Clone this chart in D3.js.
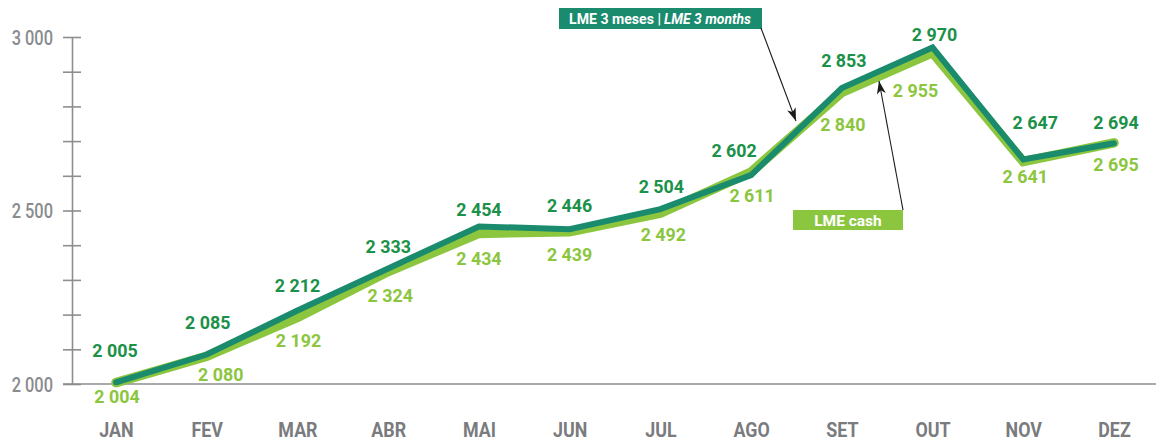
<!DOCTYPE html>
<html>
<head>
<meta charset="utf-8">
<script src="https://cdn.jsdelivr.net/npm/d3@7"></script>
<style>
  html, body { margin: 0; padding: 0; background: #fff; }
  svg { display: block; font-family: Roboto, "Noto Sans", sans-serif; }
</style>
</head>
<body>
<svg id="chart" width="1156" height="442"></svg>
<script>
// Monthly averages, USD/t
const months = ["JAN", "FEV", "MAR", "ABR", "MAI", "JUN", "JUL", "AGO", "SET", "OUT", "NOV", "DEZ"];
const lme3Months = [2005, 2085, 2212, 2333, 2454, 2446, 2504, 2602, 2853, 2970, 2647, 2694];
const lmeCash = [2004, 2080, 2192, 2324, 2434, 2439, 2492, 2611, 2840, 2955, 2641, 2695];
const yTickValues = [2000, 2100, 2200, 2300, 2400, 2500, 2600, 2700, 2800, 2900, 3000];
const yLabelValues = [2000, 2500, 3000];

// Value label placement relative to each point [dx, dy]
const lme3LabelOffsets = [[-1,-25],[1,-26],[0,-18],[0,-15],[0,-10],[0,-17],[1,-16],[-17,-18],[2,-21],[2,-6],[12,-30],[2,-14]];
const cashLabelOffsets = [[1,20],[14,25],[1,30],[2,30],[0,32],[0,29],[3,28],[1,30],[1,38],[-17,44],[2,21],[2,28]];

const C = {
  teal: "#1a8b6d",
  darkLabel: "#1b9149",
  light: "#8cc63f",
  axis: "#8d8e90",
  month: "#7a7b7e",
  yLabel: "#8a8b8e"
};

const svg = d3.select("#chart");
const x = d3.scalePoint().domain(months).range([116, 1114]);
const y = d3.scaleLinear().domain([2000, 3000]).range([384, 37]);
const fmt = v => d3.format(",")(v).replace(/,/g, " ");

// Horizontal baseline
svg.append("line")
  .attr("x1", 63).attr("x2", 1156)
  .attr("y1", y(2000)).attr("y2", y(2000))
  .attr("stroke", C.axis).attr("stroke-width", 1.6);

// Y axis
const yAxis = svg.append("g")
  .attr("transform", "translate(72,0)")
  .call(d3.axisLeft(y).tickValues(yTickValues).tickSize(0)
    .tickFormat(d => yLabelValues.includes(d) ? fmt(d) : ""));
yAxis.select(".domain").attr("stroke", C.axis).attr("stroke-width", 1.6);
yAxis.selectAll(".tick line")
  .attr("x1", -9).attr("x2", 9)
  .attr("stroke", C.axis).attr("stroke-width", 1.6);
yAxis.selectAll(".tick text")
  .attr("x", 0).attr("dy", 0)
  .attr("fill", C.yLabel)
  .attr("font-size", 20).attr("font-weight", 500)
  .attr("font-family", "Roboto, sans-serif")
  .attr("text-anchor", "end")
  .attr("dominant-baseline", "central")
  .attr("transform", "translate(-19,0) scale(0.82,1)");

// X axis labels
const xAxis = svg.append("g")
  .attr("transform", `translate(0,${y(2000)})`)
  .call(d3.axisBottom(x).tickSize(0).tickPadding(0));
xAxis.select(".domain").remove();
xAxis.selectAll(".tick text")
  .attr("y", 0).attr("dy", 0)
  .attr("fill", C.month)
  .attr("font-size", 21).attr("font-weight", 700)
  .attr("font-family", "Roboto, sans-serif")
  .attr("text-anchor", "middle")
  .attr("transform", "translate(0,53) scale(0.85,1)");

// Lines
const line = d3.line().x((d, i) => x(months[i])).y(d => y(d));
svg.append("path").datum(lmeCash)
  .attr("d", line).attr("fill", "none")
  .attr("stroke", C.light).attr("stroke-width", 9.5)
  .attr("stroke-linecap", "round").attr("stroke-linejoin", "miter");
svg.append("path").datum(lme3Months)
  .attr("d", line).attr("fill", "none")
  .attr("stroke", C.teal).attr("stroke-width", 6)
  .attr("stroke-linecap", "round").attr("stroke-linejoin", "miter");

// Value labels
function labels(values, offsets, color) {
  svg.append("g").selectAll("text").data(values).join("text")
    .attr("transform", (d, i) =>
      `translate(${x(months[i]) + offsets[i][0]},${y(d) + offsets[i][1]}) scale(0.94,1)`)
    .attr("text-anchor", "middle")
    .attr("font-size", 19).attr("font-weight", 700)
    .attr("fill", color)
    .text(d => fmt(d));
}
labels(lme3Months, lme3LabelOffsets, C.darkLabel);
labels(lmeCash, cashLabelOffsets, C.light);

// Arrowhead
svg.append("defs").append("marker")
  .attr("id", "arrow")
  .attr("viewBox", "-14 -6 16 12")
  .attr("refX", 0).attr("refY", 0)
  .attr("markerWidth", 16).attr("markerHeight", 12)
  .attr("markerUnits", "userSpaceOnUse")
  .attr("orient", "auto")
  .append("path")
  .attr("d", "M0,0 L-13,-4.5 L-9.5,0 L-13,4.5 Z")
  .attr("fill", "#1a1a1a");

// Series callouts
const callout3 = svg.append("g");
callout3.append("rect")
  .attr("x", 559).attr("y", 8).attr("width", 203).attr("height", 21)
  .attr("fill", C.teal);
callout3.append("text")
  .attr("x", 569).attr("y", 24)
  .attr("font-size", 15.5).attr("font-weight", 700).attr("fill", "#fff")
  .attr("textLength", 92).attr("lengthAdjust", "spacingAndGlyphs")
  .text("LME 3 meses |");
callout3.append("text")
  .attr("x", 664).attr("y", 24)
  .attr("font-size", 15.5).attr("font-weight", 700).attr("font-style", "italic")
  .attr("fill", "#fff")
  .attr("textLength", 87).attr("lengthAdjust", "spacingAndGlyphs")
  .text("LME 3 months");
callout3.append("line")
  .attr("x1", 761).attr("y1", 28).attr("x2", 796).attr("y2", 121)
  .attr("stroke", "#1a1a1a").attr("stroke-width", 1.1)
  .attr("marker-end", "url(#arrow)");

const calloutCash = svg.append("g");
calloutCash.append("rect")
  .attr("x", 793).attr("y", 210).attr("width", 110).attr("height", 20)
  .attr("fill", C.light);
calloutCash.append("text")
  .attr("x", 848).attr("y", 225.5)
  .attr("text-anchor", "middle")
  .attr("font-size", 15.5).attr("font-weight", 700).attr("fill", "#fff")
  .text("LME cash");
calloutCash.append("line")
  .attr("x1", 903).attr("y1", 210).attr("x2", 879).attr("y2", 81)
  .attr("stroke", "#1a1a1a").attr("stroke-width", 1.1)
  .attr("marker-end", "url(#arrow)");
</script>
</body>
</html>
